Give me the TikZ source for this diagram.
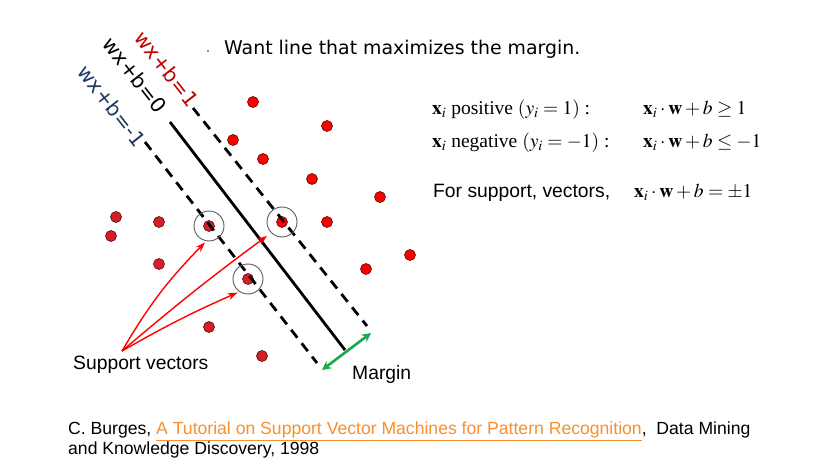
\documentclass[tikz,border=0pt]{standalone}
\usepackage{mathptmx}
\usepackage[no-math]{fontspec}
\setmainfont{Liberation Sans}
\newfontfamily\labelfont{DejaVu Sans}
\newfontfamily\serifword{Liberation Serif}
\usepackage{xcolor}
\usetikzlibrary{positioning, arrows.meta}
\definecolor{plusred}{HTML}{FF0000}
\definecolor{minusred}{HTML}{D41F2A}
\definecolor{dotrim}{HTML}{5A0A0A}
\definecolor{lblred}{HTML}{C00000}
\definecolor{lblblue}{HTML}{1F3864}
\definecolor{margingreen}{HTML}{17A94C}
\definecolor{linkorange}{HTML}{F7902F}
\definecolor{bulletcyan}{HTML}{4BACC6}

\tikzset{
  posdot/.style={circle, fill=plusred, draw=dotrim, line width=0.6pt,
                 minimum size=11pt, inner sep=0pt},
  negdot/.style={posdot, fill=minusred},
  ring/.style={circle, draw=black!65, line width=0.9pt, minimum size=30pt, inner sep=0pt},
  bound/.style={line width=2.8pt, dash pattern=on 10pt off 7pt},
  hyper/.style={line width=2.8pt},
  linelabel/.style={font=\labelfont\fontsize{20.5}{24}\selectfont, rotate=-52, inner sep=0pt},
  titletext/.style={font=\labelfont\fontsize{18.9}{22}\selectfont, inner sep=0pt},
  captext/.style={font=\fontsize{19.3}{23}\selectfont, inner sep=0pt},
  mathtext/.style={font=\serifword\fontsize{19.5}{23}\selectfont, inner sep=0pt},
  citetext/.style={font=\fontsize{17.6}{20}\selectfont, inner sep=0pt},
  svarrow/.style={draw=red, line width=1.4pt, -{Stealth[length=10pt,width=7pt]}},
  marginarrow/.style={draw=margingreen, line width=2.6pt,
                      {Stealth[length=9pt,width=9pt]}-{Stealth[length=9pt,width=9pt]}},
}

\begin{document}
\begin{tikzpicture}[x=1pt, y=-1pt]
  \useasboundingbox[fill=white] (0,0) rectangle (838,470);

  % heading
  \node[fill=bulletcyan, minimum size=2.5pt, inner sep=0pt] (bullet) at (208,51) {};
  \node[titletext, anchor=base west] (title) at (224,55) {Want line that maximizes the margin.};

  % sample points
  \foreach \px/\py [count=\k] in {116/217, 159/222, 111/236, 159/264,
                                  209/226, 248/279, 209/327, 262/356}
    \node[negdot] (neg\k) at (\px,\py) {};
  \foreach \px/\py [count=\k] in {253/102, 327/126, 233/140, 263/159, 312/179,
                                  380/197, 282/222, 327/222, 410/255, 366/269}
    \node[posdot] (pos\k) at (\px,\py) {};

  % separating line and the two margin lines
  \coordinate (upA) at (193,108);   \coordinate (upB) at (367,326);
  \coordinate (midA) at (170,122);  \coordinate (midB) at (345,350);
  \coordinate (lowA) at (145,142);  \coordinate (lowB) at (317,363);
  \draw[bound] (upA) -- (upB);
  \draw[hyper] (midA) -- (midB);
  \draw[bound] (lowA) -- (lowB);

  \node[linelabel, text=lblred] (lplus) at (167,69) {wx+b=1};
  \node[linelabel] (lzero) at (135,75) {wx+b=0};
  \node[linelabel, text=lblblue] (lminus) at (112,106) {wx+b=-1};

  % support vectors
  \node[ring] (svA) at (neg5) {};
  \node[ring] (svB) at (pos7) {};
  \node[ring] (svC) at (neg6) {};

  \node[captext, anchor=base west] (svtext) at (73,370) {Support vectors};
  \coordinate (svfoot) at (122,351);
  \draw[svarrow] (svfoot) to[bend left=7] ([shift={(-4pt,-1pt)}]svA.south);
  \draw[svarrow, shorten >=5pt] (svfoot) to[bend left=2] (svB.south west);
  \draw[svarrow, shorten >=2pt] (svfoot) to[bend left=3] (svC.-124);

  % margin
  \coordinate (gapA) at (322,370);
  \coordinate (gapB) at (371,333);
  \draw[marginarrow] (gapA) -- (gapB);
  \node[captext, anchor=base west] (margin) at (352,379) {Margin};

  % constraints
  \node[mathtext, anchor=base west] (posL) at (432,115)
    {$\mathbf{x}_i$ positive $(y_i=1)$ :};
  \node[mathtext, anchor=base west] (posR) at (643,115)
    {$\mathbf{x}_i\cdot\mathbf{w}+b\geq 1$};
  \node[mathtext, anchor=base west] (negL) at (432,148)
    {$\mathbf{x}_i$ negative $(y_i=-1)$ :};
  \node[mathtext, anchor=base west] (negR) at (643,148)
    {$\mathbf{x}_i\cdot\mathbf{w}+b\leq -1$};
  \node[captext, anchor=base west] (svL) at (433,198) {For support, vectors,};
  \node[mathtext, anchor=base west] (svR) at (634,198)
    {$\mathbf{x}_i\cdot\mathbf{w}+b=\pm 1$};

  % reference
  \node[citetext, anchor=base west] (cite1) at (68,434)
    {C. Burges, {\color{linkorange}\underline{A Tutorial on Support Vector Machines for Pattern Recognition}},\ \ Data Mining};
  \node[citetext, anchor=base west] (cite2) at (68,454) {and Knowledge Discovery, 1998};
\end{tikzpicture}
\end{document}
